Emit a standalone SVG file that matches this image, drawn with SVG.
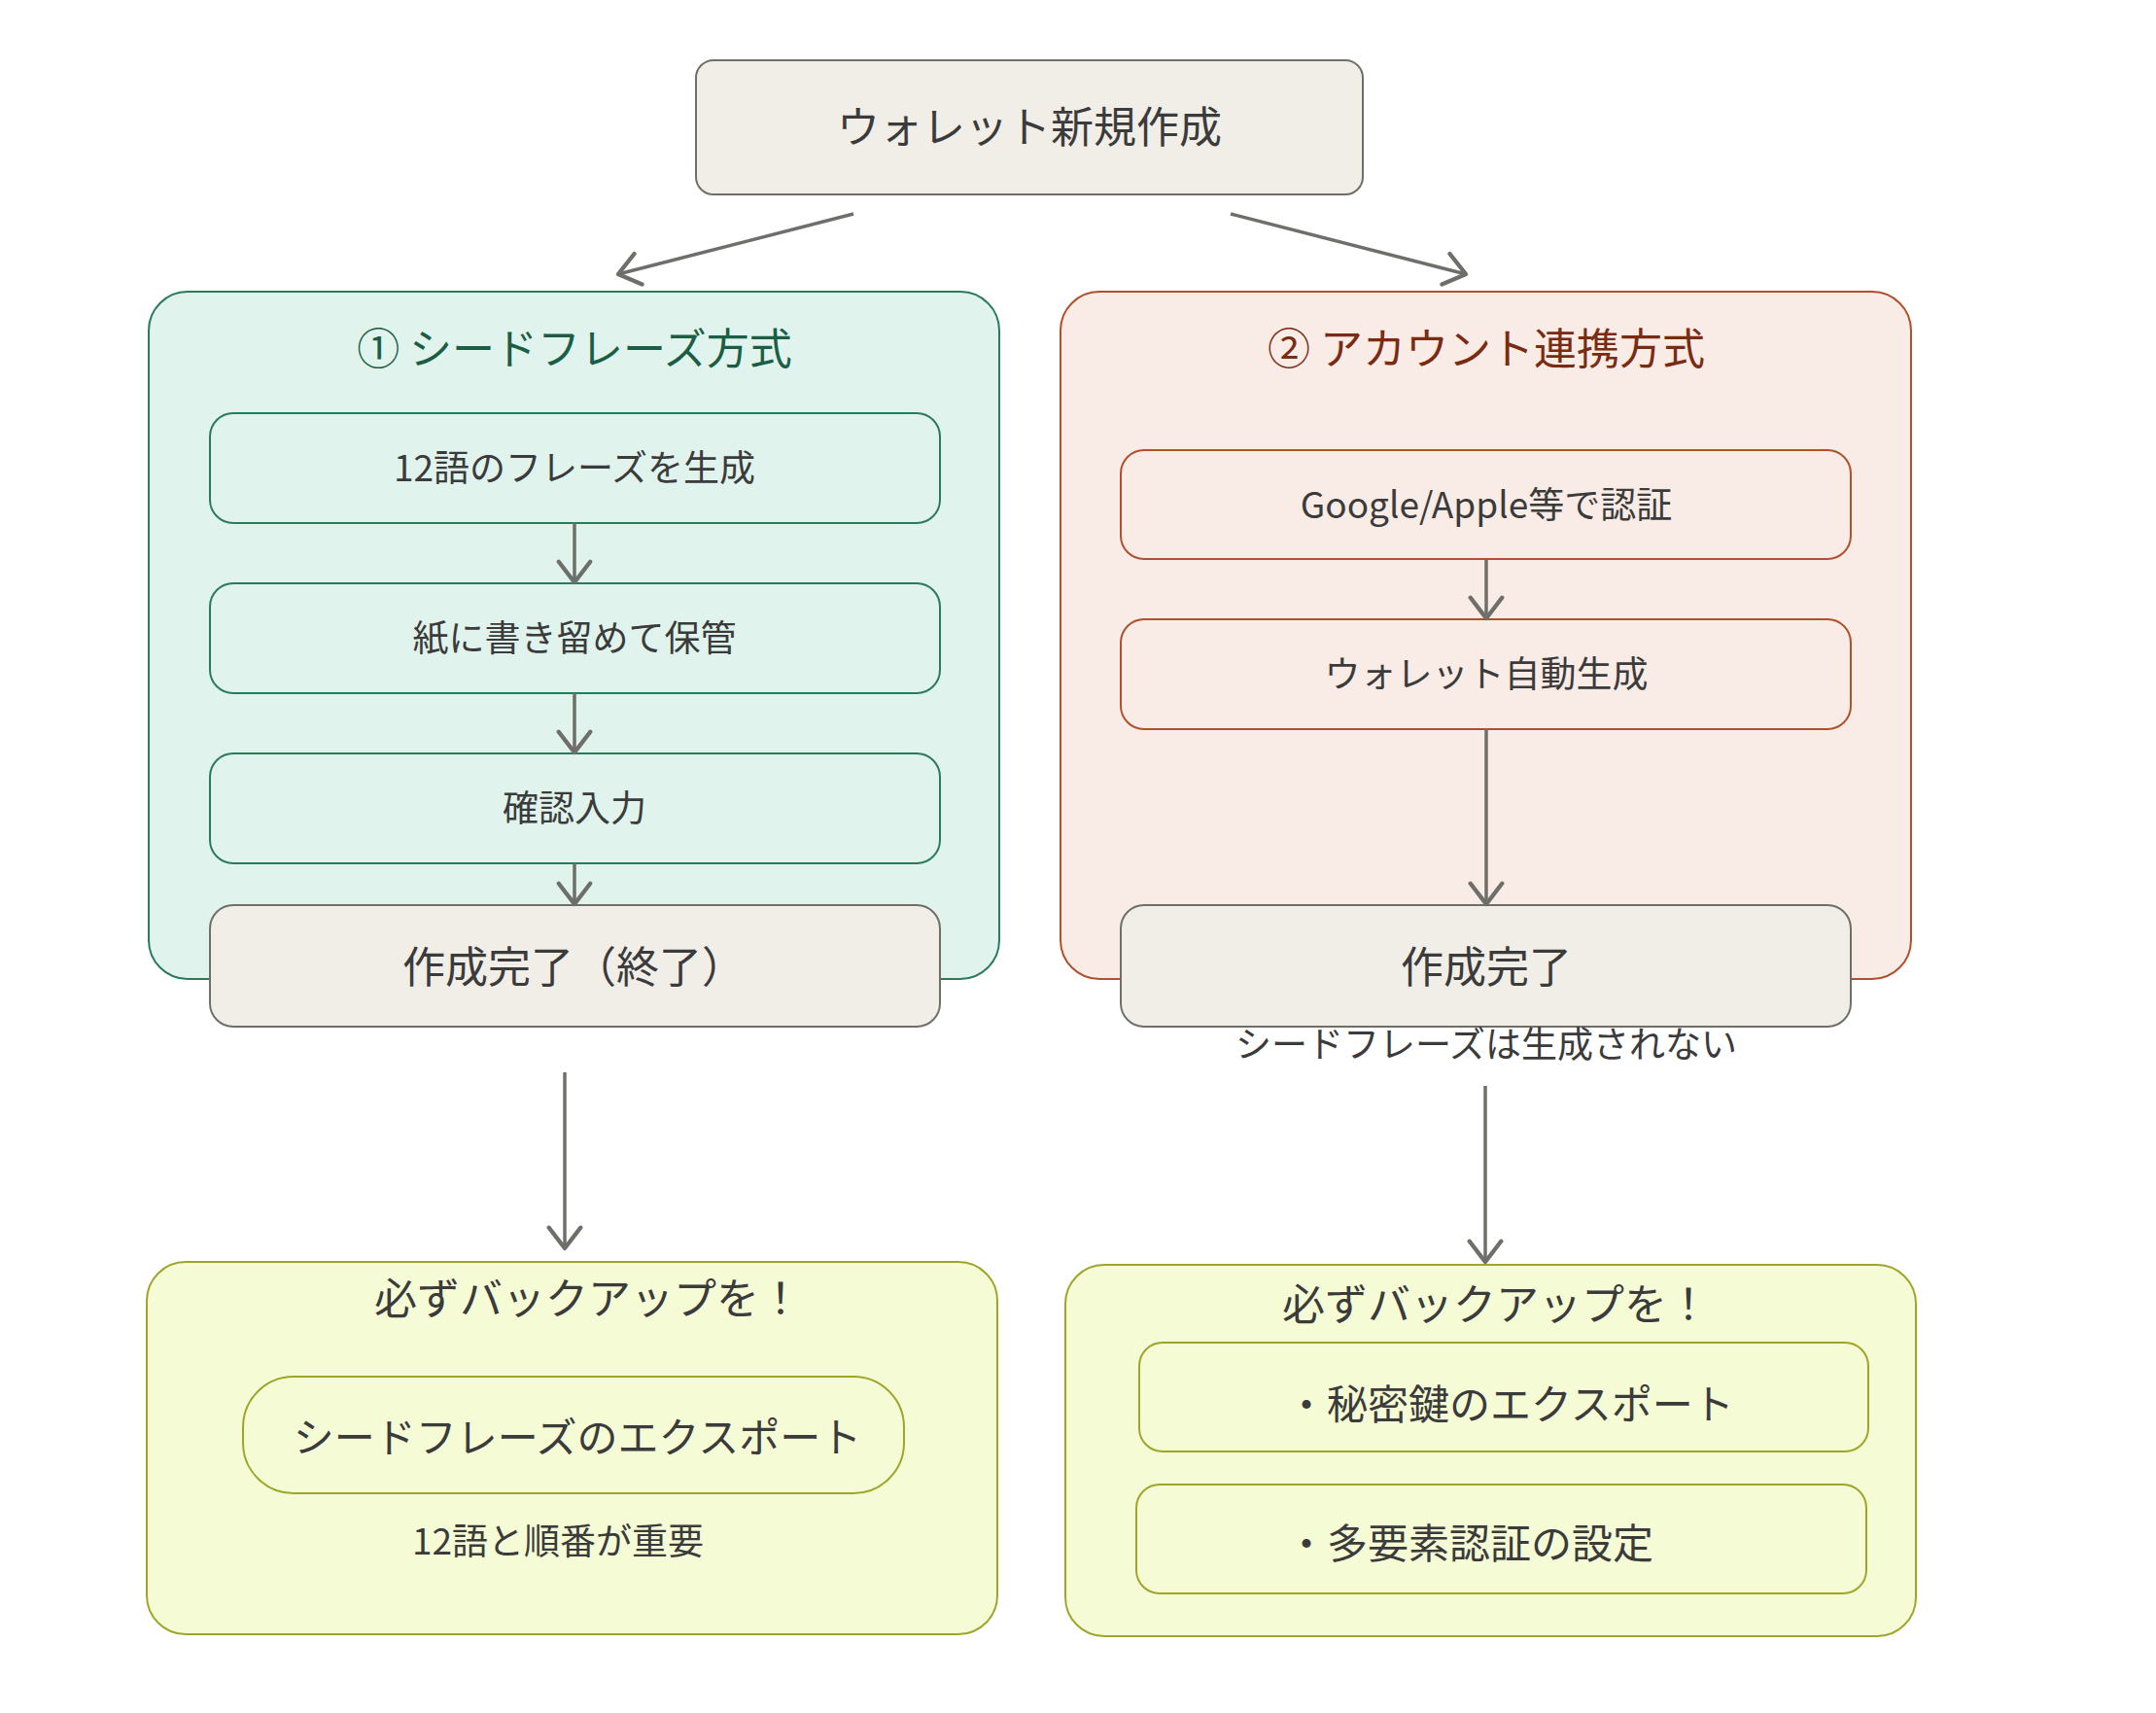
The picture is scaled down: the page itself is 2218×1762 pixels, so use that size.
<svg xmlns="http://www.w3.org/2000/svg" width="2218" height="1762" viewBox="0 0 2218 1762">
<defs>
<style>
.t{font-family:"Noto Sans CJK JP","Noto Sans",sans-serif;fill:#3b3b3b;text-anchor:middle;dominant-baseline:central}
.s{text-anchor:start}
.gray{fill:#f0eee7;stroke:#6f6f6a;stroke-width:2}
.grn{fill:#e0f3ec;stroke:#2a7a5c;stroke-width:2}
.red{fill:#f9ebe6;stroke:#b0502c;stroke-width:2}
.yel{fill:#f5fcd5;stroke:#9ea62a;stroke-width:2}
.c{fill:none;stroke:#6f6f6a;stroke-width:3.5;marker-end:url(#ah)}
</style>
<marker id="ah" markerUnits="userSpaceOnUse" markerWidth="40" markerHeight="40" viewBox="-20 -16 24 32" refX="0" refY="0" orient="auto">
<path d="M-17,-13 L0,0 L-17,13" fill="none" stroke="#6f6f6a" stroke-width="3.5" stroke-linecap="round" stroke-linejoin="round"/>
</marker>
</defs>
<rect width="2218" height="1762" fill="#ffffff"/>

<g id="start">
<rect class="gray" x="716" y="62" width="686" height="138" rx="18"/>
<text class="t" x="1059" y="128" font-size="44">ウォレット新規作成</text>
</g>

<g id="seed-group">
<rect class="grn" x="153" y="300" width="875" height="707" rx="40"/>
<text class="t" x="591" y="356" font-size="44" style="fill:#1b5e45">① シードフレーズ方式</text>
</g>
<g id="seed1">
<rect class="grn" x="216" y="425" width="751" height="113" rx="24"/>
<text class="t" x="591" y="479" font-size="37">12語のフレーズを生成</text>
</g>
<g id="seed2">
<rect class="grn" x="216" y="600" width="751" height="113" rx="24"/>
<text class="t" x="591" y="654" font-size="37">紙に書き留めて保管</text>
</g>
<g id="seed3">
<rect class="grn" x="216" y="775" width="751" height="113" rx="24"/>
<text class="t" x="591" y="829" font-size="37">確認入力</text>
</g>
<g id="seed-end">
<rect class="gray" x="216" y="931" width="751" height="125" rx="24"/>
<text class="t" x="590" y="992" font-size="44">作成完了（終了）</text>
</g>

<g id="acct-group">
<rect class="red" x="1091" y="300" width="875" height="707" rx="40"/>
<text class="t" x="1529" y="356" font-size="44" style="fill:#7a2c12">② アカウント連携方式</text>
</g>
<g id="acct1">
<rect class="red" x="1153" y="463" width="751" height="112" rx="24"/>
<text class="t" x="1529" y="517" font-size="37">Google/Apple等で認証</text>
</g>
<g id="acct2">
<rect class="red" x="1153" y="637" width="751" height="113" rx="24"/>
<text class="t" x="1529" y="691" font-size="37">ウォレット自動生成</text>
</g>
<g id="acct-end">
<rect class="gray" x="1153" y="931" width="751" height="125" rx="24"/>
<text class="t" x="1529" y="992" font-size="44">作成完了</text>
<text class="t" x="1529" y="1072" font-size="37">シードフレーズは生成されない</text>
</g>

<g id="backup-seed">
<rect class="yel" x="151" y="1298" width="875" height="383" rx="40"/>
<text class="t" x="605" y="1333" font-size="44">必ずバックアップを！</text>
<rect class="yel" x="250" y="1416" width="680" height="120" rx="52"/>
<text class="t" x="594" y="1475" font-size="42">シードフレーズのエクスポート</text>
<text class="t" x="574" y="1583" font-size="37">12語と順番が重要</text>
</g>

<g id="backup-acct">
<rect class="yel" x="1096" y="1301" width="875" height="382" rx="40"/>
<text class="t" x="1539" y="1339" font-size="44">必ずバックアップを！</text>
<rect class="yel" x="1172" y="1381" width="750" height="112" rx="24"/>
<text class="t s" x="1323" y="1441" font-size="42">・秘密鍵のエクスポート</text>
<rect class="yel" x="1169" y="1527" width="751" height="112" rx="24"/>
<text class="t s" x="1323" y="1584" font-size="42">・多要素認証の設定</text>
</g>

<g id="connectors">
<path class="c" d="M878,220 L636,282"/>
<path class="c" d="M1266,220 L1508,282"/>
<path class="c" d="M591,538 L591,599"/>
<path class="c" d="M591,713 L591,774"/>
<path class="c" d="M591,888 L591,930"/>
<path class="c" d="M1529,575 L1529,636"/>
<path class="c" d="M1529,750 L1529,930"/>
<path class="c" d="M581,1103 L581,1284"/>
<path class="c" d="M1528,1117 L1528,1298"/>
</g>
</svg>
